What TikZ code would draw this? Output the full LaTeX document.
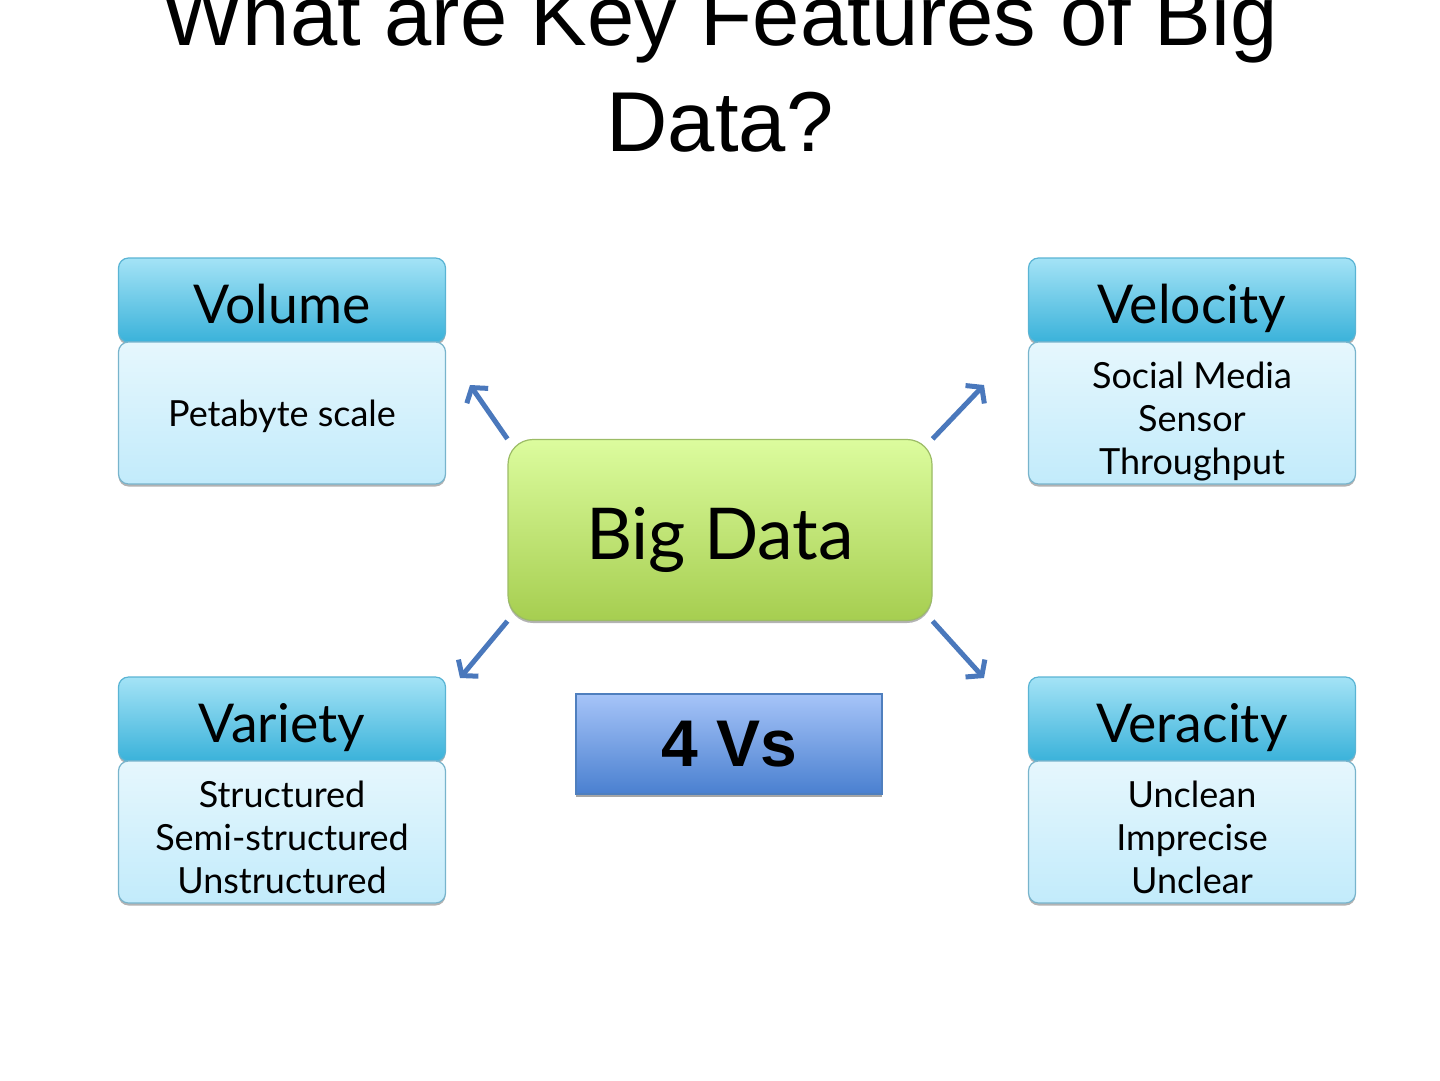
\documentclass[tikz,border=0pt]{standalone}
\usepackage{fontspec}
\setmainfont{Lato}
\newfontfamily\titlefont{Liberation Sans}
\newfontfamily\tagfont{Liberation Sans}
\usetikzlibrary{arrows.meta}
\usetikzlibrary{shadows}

\definecolor{hdtop}{HTML}{A4E3F6}
\definecolor{hdbot}{HTML}{3AB2DA}
\definecolor{hdline}{HTML}{5AB4D4}
\definecolor{bdtop}{HTML}{E6F7FD}
\definecolor{bdbot}{HTML}{C2EBFB}
\definecolor{bdline}{HTML}{78B4CC}
\definecolor{gntop}{HTML}{DCFC9E}
\definecolor{gnbot}{HTML}{A6CE50}
\definecolor{gnline}{HTML}{9CBC66}
\definecolor{bltop}{HTML}{A6C4F8}
\definecolor{blbot}{HTML}{4A80D0}
\definecolor{blline}{HTML}{4F7FBE}
\definecolor{arblue}{HTML}{4A78BC}

\begin{document}
\begin{tikzpicture}[x=1pt,y=-1pt,
    vhead/.style={draw=hdline, line width=1.2pt, rounded corners=10pt, top color=hdtop, bottom color=hdbot,
        minimum width=327pt, minimum height=84pt, inner sep=0pt, text height=50pt, text depth=4pt,
        font=\fontsize{53.5}{60}\selectfont,
        drop shadow={shadow xshift=0pt, shadow yshift=-2.5pt, fill=gray, opacity=0.6}},
    vbody/.style={draw=bdline, line width=1.2pt, rounded corners=10pt, top color=bdtop, bottom color=bdbot,
        minimum width=327pt, minimum height=142pt, inner sep=0pt, align=center,
        text height=126pt, text depth=4pt, font=\fontsize{36}{43}\selectfont,
        drop shadow={shadow xshift=0pt, shadow yshift=-2.5pt, fill=gray, opacity=0.6}},
    core/.style={draw=gnline, line width=1.2pt, rounded corners=25pt, top color=gntop, bottom color=gnbot,
        minimum width=424pt, minimum height=181pt, inner sep=0pt, text height=64pt, text depth=5pt,
        font=\fontsize{71.5}{80}\selectfont,
        drop shadow={shadow xshift=0pt, shadow yshift=-2.5pt, fill=gray, opacity=0.6}},
    tag/.style={draw=blline, line width=1.2pt, top color=bltop, bottom color=blbot,
        minimum width=306pt, minimum height=100pt, inner sep=0pt, font=\tagfont\bfseries\fontsize{66}{72}\selectfont,
        drop shadow={shadow xshift=0pt, shadow yshift=-3pt, fill=gray, opacity=0.7}},
    varrow/.style={line width=5pt, arblue, -{Straight Barb[length=10pt,width=26pt]}}]

            \useasboundingbox (0,0) rectangle (1440,1080);

            \path   (720,153) node (title) [anchor=south, inner sep=0pt, align=center, font=\titlefont\fontsize{85}{106}\selectfont] {What are Key Features of Big\\Data?}
                    (282,300) node (volh) [vhead] {Volume}
                    (282,413) node (volb) [vbody, text height=30pt] {Petabyte scale}
                    (1192,300) node (velh) [vhead] {Velocity}
                    (1192,413) node (velb) [vbody] {Social Media\\Sensor\\Throughput}
                    (282,719) node (varh) [vhead] {Variety}
                    (282,832) node (varb) [vbody] {Structured\\Semi-structured\\Unstructured}
                    (1192,719) node (verh) [vhead] {Veracity}
                    (1192,832) node (verb) [vbody] {Unclean\\Imprecise\\Unclear}
                    (720,530) node (bd) [core] {Big Data}
                    (729,744) node (vs) [tag] {4 Vs};

            \coordinate (tl) at (470,385);
            \coordinate (tr) at (984,385);
            \coordinate (bl) at (460,678);
            \coordinate (br) at (984,678);

            \draw[varrow] (node cs: name =bd, anchor =north west) -- (tl);
            \draw[varrow] (node cs: name =bd, anchor =north east) -- (tr);
            \draw[varrow] (node cs: name =bd, anchor =south west) -- (bl);
            \draw[varrow] (node cs: name =bd, anchor =south east) -- (br);
        \end{tikzpicture}
\end{document}
